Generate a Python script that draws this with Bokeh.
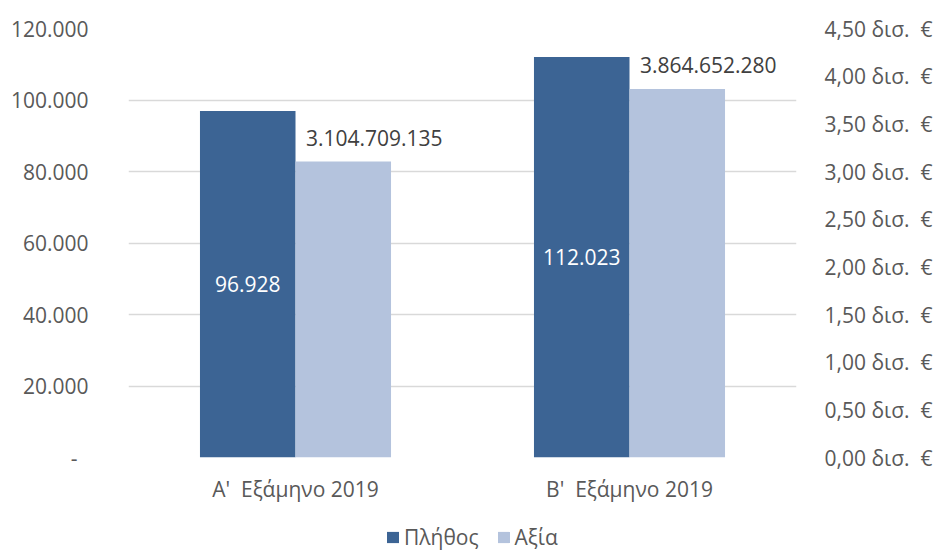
from bokeh.plotting import figure
from bokeh.layouts import column
from bokeh.models import (Range1d, LinearAxis, FixedTicker, CustomJSTickFormatter,
                          ColumnDataSource, Legend, LegendItem)
from bokeh.transform import dodge
from bokeh.core.properties import value
from bokeh.embed import file_html
from bokeh.resources import INLINE

categories = ["Α'\u00a0 Εξάμηνο 2019", "Β'\u00a0 Εξάμηνο 2019"]
counts = [96928, 112023]
values_eur = [3104709135, 3864652280]
left_ticks = [0, 20000, 40000, 60000, 80000, 100000, 120000]
right_ticks = [0, 0.5e9, 1.0e9, 1.5e9, 2.0e9, 2.5e9, 3.0e9, 3.5e9, 4.0e9, 4.5e9]
series_names = ["Πλήθος", "Αξία"]

FONT = "Open Sans"
FS = "21px"
DARK = "#3C6494"
LIGHT = "#B4C3DD"
GRAY = "#595959"


def gr(n):
    return f"{n:,}".replace(",", ".")


src = ColumnDataSource(dict(
    cat=categories,
    count=counts,
    val=values_eur,
    count_mid=[c / 2 for c in counts],
    count_lbl=[gr(c) for c in counts],
    val_lbl=[gr(v) for v in values_eur],
))

p = figure(x_range=categories, y_range=Range1d(0, 120000),
           width=935, height=520, output_backend="svg", toolbar_location=None,
           min_border_left=128, min_border_right=136, min_border_top=28,
           min_border_bottom=63)
p.extra_y_ranges = {"val": Range1d(0, 4.5e9)}
p.outline_line_color = None
p.background_fill_color = "white"
p.border_fill_color = "white"

# grid
p.xgrid.grid_line_color = None
p.ygrid.grid_line_color = "#D9D9D9"
p.ygrid.grid_line_width = 1.5
p.ygrid.ticker = FixedTicker(ticks=left_ticks)

# left axis
p.yaxis.ticker = FixedTicker(ticks=left_ticks)
p.yaxis.formatter = CustomJSTickFormatter(code="""
if (tick == 0) { return '-\u00a0\u00a0'; }
return Math.round(tick).toString().replace(/\\B(?=(\\d{3})+(?!\\d))/g, '.');
""")
p.yaxis.axis_line_color = None
p.yaxis.major_tick_line_color = None
p.yaxis.minor_tick_line_color = None
p.yaxis.major_label_text_font = FONT
p.yaxis.major_label_text_font_size = FS
p.yaxis.major_label_text_color = GRAY
p.yaxis.major_label_standoff = 34

# right axis
ra = LinearAxis(y_range_name="val", ticker=FixedTicker(ticks=right_ticks))
ra.formatter = CustomJSTickFormatter(code="""
return (tick / 1e9).toFixed(2).replace('.', ',') + ' δισ.\u00a0 €';
""")
ra.axis_line_color = None
ra.major_tick_line_color = None
ra.minor_tick_line_color = None
ra.major_label_text_font = FONT
ra.major_label_text_font_size = FS
ra.major_label_text_color = GRAY
ra.major_label_standoff = 22
p.add_layout(ra, "right")

# x axis
p.xaxis.axis_line_color = None
p.xaxis.major_tick_line_color = None
p.xaxis.major_label_text_font = FONT
p.xaxis.major_label_text_font_size = FS
p.xaxis.major_label_text_color = GRAY
p.xaxis.major_label_standoff = 11

bw = 0.286
r1 = p.vbar(x=dodge("cat", -bw / 2, range=p.x_range), top="count", width=bw,
            source=src, fill_color=DARK, line_color=None)
r2 = p.vbar(x=dodge("cat", bw / 2, range=p.x_range), top="val", width=bw,
            source=src, fill_color=LIGHT, line_color=None, y_range_name="val")

p.text(x=dodge("cat", -bw / 2, range=p.x_range), y="count_mid", text="count_lbl",
       source=src, text_align="center", text_baseline="middle",
       text_font=value(FONT), text_font_size=FS, text_color="white")
p.text(x=dodge("cat", bw / 2, range=p.x_range), y="val", text="val_lbl",
       source=src, text_align="center", text_baseline="middle", x_offset=31, y_offset=-24,
       text_font=value(FONT), text_font_size=FS, text_color="#404040",
       y_range_name="val")

# legend strip below the chart (dummy renderers lie outside its visible range)
lg = figure(width=935, height=32, output_backend="svg", toolbar_location=None,
            x_axis_type=None, y_axis_type=None, x_range=Range1d(0, 1), y_range=Range1d(0, 1),
            min_border=0, min_border_left=0, min_border_right=0,
            min_border_top=0, min_border_bottom=0)
lg.outline_line_color = None
lg.grid.visible = False
dummy = ColumnDataSource(dict(x=[-10], top=[-10]))
d1 = lg.vbar(x="x", top="top", bottom=-11, width=0.1, source=dummy,
             fill_color=DARK, line_color=None)
d2 = lg.vbar(x="x", top="top", bottom=-11, width=0.1, source=dummy,
             fill_color=LIGHT, line_color=None)
legend = Legend(items=[LegendItem(label=series_names[0], renderers=[d1]),
                       LegendItem(label=series_names[1], renderers=[d2])],
                orientation="horizontal", location=(257, 1),
                label_text_font=FONT, label_text_font_size=FS,
                label_text_color=GRAY, glyph_width=15, glyph_height=14,
                label_height=20, label_standoff=4, spacing=17, padding=0, margin=0,
                border_line_color=None, background_fill_alpha=0)
lg.add_layout(legend, "center")

layout = column(p, lg, spacing=0)
open("out.html", "w").write(file_html(layout, INLINE))
